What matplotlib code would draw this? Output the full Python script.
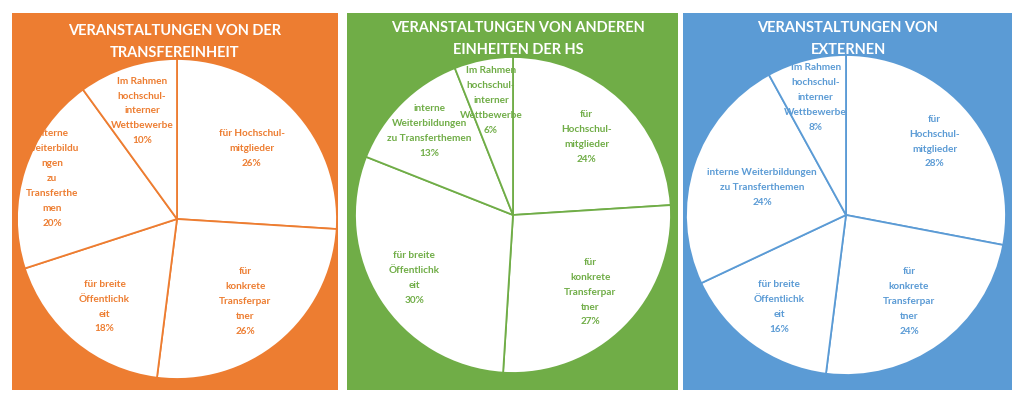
import numpy as np
import matplotlib.pyplot as plt

W, H = 1024, 398

# data
titles = ["VERANSTALTUNGEN VON DER\nTRANSFEREINHEIT",
          "VERANSTALTUNGEN VON ANDEREN\nEINHEITEN DER HS",
          "VERANSTALTUNGEN VON\nEXTERNEN"]
labels_orange = ["für Hochschul-\nmitglieder", "für\nkonkrete\nTransferpar\ntner",
                 "für breite\nÖffentlichk\neit", "interne\nWeiterbildu\nngen\nzu\nTransferthe\nmen",
                 "Im Rahmen\nhochschul-\ninterner\nWettbewerbe"]
labels_green = ["für\nHochschul-\nmitglieder", "für\nkonkrete\nTransferpar\ntner",
                "für breite\nÖffentlichk\neit", "interne\nWeiterbildungen\nzu Transferthemen",
                "Im Rahmen\nhochschul-\ninterner\nWettbewerbe"]
labels_blue = ["für\nHochschul-\nmitglieder", "für\nkonkrete\nTransferpar\ntner",
               "für breite\nÖffentlichk\neit", "interne Weiterbildungen\nzu Transferthemen",
               "Im Rahmen\nhochschul-\ninterner\nWettbewerbe"]
values_orange = [26, 26, 18, 20, 10]
values_green = [24, 27, 30, 13, 6]
values_blue = [28, 24, 16, 24, 8]

# layout (pixels)
colors = ["#ED7D31", "#70AD47", "#5B9BD5"]
panels = [(12, 13, 338, 390), (347, 13, 678, 390), (683, 13, 1012, 390)]
centers = [(177, 219), (513, 215), (846, 215)]
radii = [160, 158, 160]
title_pos = [(175, 42), (518, 39), (848, 39)]
lbl_dist = [[0.64, 0.67, 0.71, 0.82, 0.71],
            [0.68, 0.69, 0.74, 0.75, 0.74],
            [0.72, 0.67, 0.71, 0.55, 0.76]]

all_labels = [labels_orange, labels_green, labels_blue]
all_values = [values_orange, values_green, values_blue]

fig = plt.figure(figsize=(W / 100, H / 100), dpi=100)
fig.patch.set_facecolor("white")

for i in range(3):
    x0, y0, x1, y1 = panels[i]
    ax = fig.add_axes([x0 / W, 1 - y1 / H, (x1 - x0) / W, (y1 - y0) / H])
    ax.set_facecolor(colors[i])
    cx, cy = centers[i]
    cy = H - cy
    wedges, _ = ax.pie(all_values[i], startangle=90, counterclock=False,
                       center=(cx, cy), radius=radii[i], frame=True,
                       wedgeprops=dict(facecolor="white", edgecolor=colors[i], linewidth=1.3))
    for j, w in enumerate(wedges):
        ang = np.deg2rad((w.theta1 + w.theta2) / 2)
        d = lbl_dist[i][j] * radii[i]
        txt = all_labels[i][j] + "\n" + f"{all_values[i][j]}%"
        ax.text(cx + d * np.cos(ang), cy + d * np.sin(ang), txt,
                ha="center", va="center", color=colors[i], fontsize=7.2,
                fontfamily="Lato", fontweight="bold", linespacing=1.85)
    ax.set_xlim(x0, x1)
    ax.set_ylim(H - y1, H - y0)
    ax.set_aspect("auto")
    ax.set_xticks([])
    ax.set_yticks([])
    for s in ax.spines.values():
        s.set_visible(False)
    tx, ty = title_pos[i]
    ax.text(tx, H - ty, titles[i], ha="center", va="center", color="white",
            fontsize=10.5, fontfamily="Lato", fontweight="bold", linespacing=1.75)

fig.savefig("out.png", dpi=100, facecolor="white")
